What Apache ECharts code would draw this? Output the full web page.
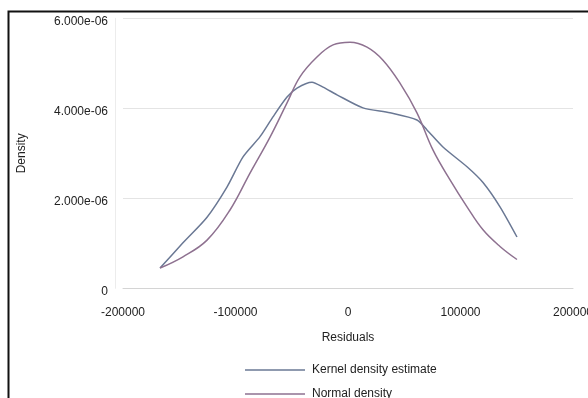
<!DOCTYPE html>
<html>
<head>
<meta charset="utf-8">
<script src="https://cdn.jsdelivr.net/npm/echarts@6/dist/echarts.min.js"></script>
<style>
html,body{margin:0;padding:0;background:#fff;}
#c{width:588px;height:398px;}
</style>
</head>
<body>
<div id="c"></div>
<script>
// Residual values (x) and densities
var kdeX = [-167100, -146700, -125300, -107600, -93300, -78200, -66700, -54200, -45300, -32000, -22200, -9800, 13300, 37300, 61300, 70200, 84400, 105800, 120000, 135100, 150200];
var kdeY = [0.45e-6, 1.01e-6, 1.58e-6, 2.25e-6, 2.92e-6, 3.37e-6, 3.81e-6, 4.25e-6, 4.45e-6, 4.58e-6, 4.47e-6, 4.30e-6, 4.01e-6, 3.90e-6, 3.74e-6, 3.52e-6, 3.14e-6, 2.70e-6, 2.35e-6, 1.81e-6, 1.14e-6];
var normX = [-167100, -146700, -125300, -104900, -87100, -69300, -54200, -42700, -27600, -13300, 1800, 16900, 31100, 46200, 61300, 75600, 90700, 105800, 120000, 135100, 150200];
var normY = [0.45e-6, 0.70e-6, 1.07e-6, 1.74e-6, 2.56e-6, 3.36e-6, 4.12e-6, 4.70e-6, 5.14e-6, 5.41e-6, 5.47e-6, 5.36e-6, 5.07e-6, 4.56e-6, 3.90e-6, 3.07e-6, 2.41e-6, 1.81e-6, 1.30e-6, 0.93e-6, 0.64e-6];
var seriesNames = ['Kernel density estimate', 'Normal density'];
var xTicks = [-200000, -100000, 0, 100000, 200000];
var yTicks = [0, 2e-6, 4e-6, 6e-6];

function zip(a, b) { return a.map(function (v, i) { return [v, b[i]]; }); }
function fmtY(v) {
  if (Math.abs(v) < 1e-12) return '0';
  return v.toExponential(3).replace(/e([+-])(\d)$/, 'e$10$2');
}
function fmtX(v) { return String(Math.round(v)); }

var colors = ['#6a7894', '#8e7190'];
var chart = echarts.init(document.getElementById('c'), null, {renderer: 'canvas'});
var font = 'Liberation Sans, Arial, sans-serif';
function legendFor(i, top) {
  return {
    orient: 'vertical', left: 240, top: top,
    icon: 'rect', itemWidth: 60, itemHeight: 1.5, itemGap: 0,
    textStyle: {fontFamily: font, fontSize: 12, color: '#222', padding: [0, 0, 0, 2]},
    data: [seriesNames[i]]
  };
}
chart.setOption({
  backgroundColor: '#ffffff',
  animation: false,
  graphic: [{
    type: 'rect', left: 6, top: 9, z: 100, silent: true,
    shape: {x: 0, y: 0, width: 700, height: 500},
    style: {fill: 'none', stroke: '#111', lineWidth: 2}
  }],
  grid: {left: 123, right: 15, top: 18.3, bottom: 109.7, containLabel: false, outerBoundsMode: 'none'},
  legend: [legendFor(0, 359), legendFor(1, 383)],
  xAxis: {
    type: 'value', min: xTicks[0], max: xTicks[xTicks.length - 1], interval: 100000,
    name: 'Residuals', nameLocation: 'middle', nameGap: 43,
    nameTextStyle: {fontFamily: font, fontSize: 12, color: '#222'},
    axisLine: {show: true, onZero: false, lineStyle: {color: '#d4d4d4', width: 1}},
    axisTick: {show: false},
    splitLine: {show: false},
    axisLabel: {fontFamily: font, fontSize: 12, color: '#222', margin: 18, showMaxLabel: true, showMinLabel: true, formatter: fmtX}
  },
  yAxis: {
    type: 'value', min: yTicks[0], max: yTicks[yTicks.length - 1], interval: 2e-6,
    offset: 8,
    name: 'Density', nameLocation: 'middle', nameGap: 87,
    nameTextStyle: {fontFamily: font, fontSize: 12, color: '#222'},
    axisLine: {show: true, onZero: false, lineStyle: {color: '#ececec', width: 1}},
    axisTick: {show: false},
    splitLine: {show: true, lineStyle: {color: '#e4e4e4', width: 1}},
    axisLabel: {fontFamily: font, fontSize: 12, color: '#222', margin: 7, verticalAlign: 'top', lineHeight: 6, formatter: fmtY}
  },
  series: [{
    name: seriesNames[0], type: 'line', data: zip(kdeX, kdeY),
    smooth: 0.25, symbol: 'none', showSymbol: false,
    lineStyle: {color: colors[0], width: 1.5}, itemStyle: {color: colors[0]}
  }, {
    name: seriesNames[1], type: 'line', data: zip(normX, normY),
    smooth: 0.4, symbol: 'none', showSymbol: false,
    lineStyle: {color: colors[1], width: 1.5}, itemStyle: {color: colors[1]}
  }]
});
</script>
</body>
</html>
